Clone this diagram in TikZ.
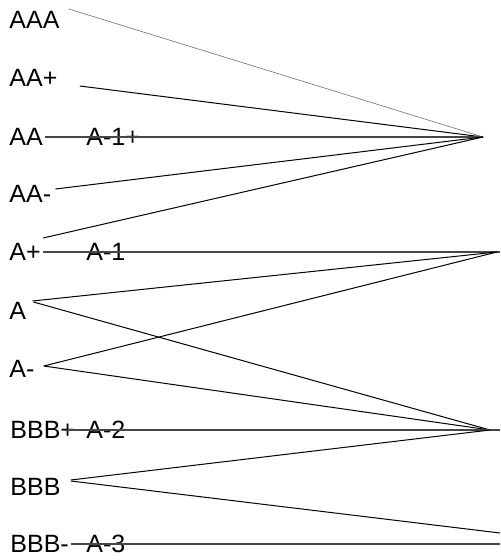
\documentclass[tikz,border=0pt]{standalone}
\usepackage{fontspec}
\setmainfont{Liberation Sans}
\usetikzlibrary{positioning}
\definecolor{mapgrey}{RGB}{70,70,70}
\definecolor{faintgrey}{RGB}{110,110,110}

\begin{document}
\begin{tikzpicture}[x=0.5pt, y=-0.5pt, every node/.style={font=\fontsize{12.5}{15}\selectfont, inner sep=0pt, anchor=west}]
  \useasboundingbox (0,0) rectangle (500,560);
  % long-term ratings
  \node (aaa) at (9,20) {AAA};
  \node (aap) at (9,78) {AA+};
  \node (aa) at (9,137) {AA};
  \node (aam) at (9,194) {AA-};
  \node (ap) at (9,252) {A+};
  \node (a) at (9,311) {A};
  \node (am) at (9,369) {A-};
  \node (bbbp) at (10,430) {BBB+};
  \node (bbb) at (10,487) {BBB};
  \node (bbbm) at (10,544) {BBB-};
  % short-term grades
  \coordinate (onep) at (483,137);
  \coordinate (one) at (500,252);
  \coordinate (onex) at (497,252);
  \coordinate (two) at (490,430);
  \coordinate (twoe) at (500,430);
  \coordinate (bbbe) at (500,533);
  \coordinate (three) at (500,544);
  \node (lonep) at (86,137) {A-1+};
  \node (lone) at (86,252) {A-1};
  \node (ltwo) at (86,430) {A-2};
  \node (lthree) at (86,544) {A-3};
  % mapping lines
  \draw[faintgrey, line width=0.3pt] ([shift={(9,-11)}]aaa.east) -- (onep);
  \draw[line width=0.5pt] ([shift={(22,8)}]aap.east) -- (onep);
  \draw[mapgrey, line width=0.6pt] ([xshift=1pt]aa.east) -- (onep);
  \draw[line width=0.5pt] ([shift={(4,-5)}]aam.east) -- (onep);
  \draw[line width=0.5pt] ([shift={(2,-14)}]ap.east) -- (onep);
  \draw[mapgrey, line width=0.6pt] ([xshift=1pt]ap.east) -- (one);
  \draw[line width=0.5pt] ([shift={(6,-10)}]a.east) -- (onex);
  \draw[line width=0.5pt] ([shift={(7,-9)}]a.east) -- (two);
  \draw[line width=0.5pt] ([shift={(9,-3)}]am.east) -- (onex);
  \draw[line width=0.5pt] ([shift={(9,-3)}]am.east) -- (two);
  \draw[mapgrey, line width=0.6pt] ([xshift=-4pt]bbbp.east) -- (twoe);
  \draw[line width=0.5pt] ([shift={(10,-7)}]bbb.east) -- (two);
  \draw[line width=0.5pt] ([shift={(10,-6)}]bbb.east) -- (bbbe);
  \draw[mapgrey, line width=0.6pt] ([xshift=1pt]bbbm.east) -- (three);
\end{tikzpicture}
\end{document}
